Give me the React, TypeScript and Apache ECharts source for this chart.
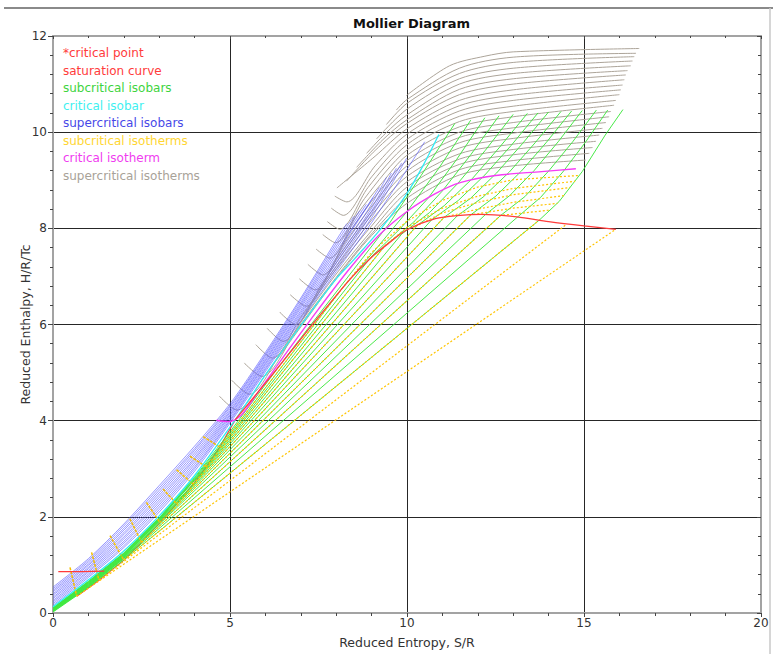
import React, { useEffect, useRef } from "react";
import * as echarts from "echarts";

type Pt = [number, number];

// ---- Saturation dome ----
const satLowSegment: Pt[] = [[0.15, 0.86], [0.8, 0.86], [1.45, 0.87]];
const satLiquid: Pt[] = [[0.67, 0.35], [1.3, 0.68], [2.0, 1.1], [2.5, 1.47], [3.02, 1.88], [3.49, 2.27], [3.96, 2.68], [4.33, 3.04], [4.71, 3.45], [5.15, 4.02]];
const satVapor: Pt[] = [[5.15, 4.02], [6.0, 4.78], [6.7, 5.42], [7.44, 6.1], [8.4, 6.95], [9.0, 7.4], [9.5, 7.7], [10.0, 7.97], [10.8, 8.2], [11.5, 8.27], [12.1, 8.29], [13.1, 8.24], [14.0, 8.14], [15.0, 8.05], [15.9, 7.98]];

// ---- Critical isobar and isotherm ----
const criticalIsobar: Pt[] = [[0, 0.13], [1, 0.69], [2, 1.29], [3, 2.02], [4, 2.86], [5.15, 4.02], [6.0, 4.95], [7.0, 5.98], [8.0, 6.95], [8.5, 7.35], [9.27, 8.0], [9.96, 8.68], [10.45, 9.3], [10.9, 9.95]];
const criticalIsotherm: Pt[] = [[4.62, 4.01], [4.95, 3.98], [5.3, 4.1], [5.8, 4.6], [6.6, 5.42], [7.5, 6.32], [8.4, 7.18], [9.2, 7.85], [10.0, 8.35], [10.8, 8.72], [11.5, 8.95], [12.5, 9.1], [13.8, 9.18], [14.77, 9.24]];

// ---- Supercritical isobars (highest pressure first) ----
const superIsobars: Pt[][] = [
  [[0, 0.54], [1, 1.13], [2, 1.85], [3, 2.65], [4, 3.47], [5, 4.35], [6, 5.42], [7, 6.55], [8, 7.75], [8.3, 8.1]],
  [[0, 0.505], [1, 1.095], [2, 1.81], [3, 2.6], [4, 3.42], [5, 4.31], [6, 5.38], [7, 6.51], [8, 7.69], [8.5, 8.25]],
  [[0, 0.47], [1, 1.06], [2, 1.76], [3, 2.55], [4, 3.38], [5, 4.28], [6, 5.35], [7, 6.46], [8, 7.63], [8.67, 8.37]],
  [[0, 0.44], [1, 1.02], [2, 1.72], [3, 2.5], [4, 3.33], [5, 4.24], [6, 5.31], [7, 6.42], [8, 7.57], [8.85, 8.5]],
  [[0, 0.4], [1, 0.99], [2, 1.67], [3, 2.45], [4, 3.28], [5, 4.2], [6, 5.27], [7, 6.38], [8, 7.51], [9.04, 8.64]],
  [[0, 0.37], [1, 0.95], [2, 1.63], [3, 2.4], [4, 3.23], [5, 4.17], [6, 5.24], [7, 6.34], [8, 7.45], [9.22, 8.85]],
  [[0, 0.33], [1, 0.92], [2, 1.58], [3, 2.35], [4, 3.19], [5, 4.13], [6, 5.2], [7, 6.29], [8, 7.39], [9, 8.5], [9.42, 9.06]],
  [[0, 0.3], [1, 0.88], [2, 1.54], [3, 2.3], [4, 3.14], [5, 4.1], [6, 5.17], [7, 6.25], [8, 7.33], [9, 8.42], [9.56, 9.15]],
  [[0, 0.26], [1, 0.85], [2, 1.49], [3, 2.25], [4, 3.09], [5, 4.06], [6, 5.13], [7, 6.21], [8, 7.28], [9, 8.36], [9.7, 9.25]],
  [[0, 0.23], [1, 0.81], [2, 1.45], [3, 2.2], [4, 3.04], [5, 4.02], [6, 5.09], [7, 6.17], [8, 7.22], [9, 8.3], [9.85, 9.36]],
  [[0, 0.195], [1, 0.775], [2, 1.4], [3, 2.15], [4, 3.0], [5, 3.99], [6, 5.06], [7, 6.12], [8, 7.16], [9, 8.22], [9.99, 9.46]],
  [[0, 0.16], [1, 0.74], [2, 1.36], [3, 2.1], [4, 2.95], [5, 3.95], [6, 5.02], [7, 6.08], [8, 7.1], [9, 8.12], [9.8, 9.0], [10.5, 9.8]],
];

// ---- Subcritical isobars: liquid, two-phase, superheated ----
const subIsobars: Pt[][] = [
  [[0, 0.11], [1, 0.66], [2, 1.25], [3, 1.98], [4, 2.82], [4.95, 3.72], [6.6, 5.34], [7.5, 6.2], [8.5, 7.15], [9.5, 8.1], [10.4, 9.1], [11.35, 10.18]],
  [[0, 0.1], [1, 0.65], [2, 1.24], [3, 1.97], [4, 2.8], [4.71, 3.45], [8.2, 6.78], [9.1, 7.55], [10.0, 8.35], [10.9, 9.25], [11.8, 10.25]],
  [[0, 0.1], [1, 0.64], [2, 1.23], [3, 1.96], [4, 2.78], [4.52, 3.24], [8.98, 7.4], [9.79, 7.98], [10.59, 8.62], [11.4, 9.43], [12.2, 10.3]],
  [[0, 0.09], [1, 0.63], [2, 1.22], [3, 1.95], [4, 2.77], [4.33, 3.04], [9.38, 7.64], [10.19, 8.13], [10.99, 8.77], [11.8, 9.53], [12.6, 10.34]],
  [[0, 0.08], [1, 0.62], [2, 1.21], [3, 1.94], [4, 2.76], [4.15, 2.86], [9.85, 7.88], [10.64, 8.33], [11.43, 8.93], [12.21, 9.62], [13.0, 10.37]],
  [[0, 0.08], [1, 0.61], [2, 1.2], [3, 1.93], [3.96, 2.68], [10.27, 8.05], [11.05, 8.47], [11.84, 9.03], [12.62, 9.69], [13.4, 10.39]],
  [[0, 0.07], [1, 0.6], [2, 1.19], [3, 1.92], [3.72, 2.47], [10.7, 8.18], [11.45, 8.58], [12.2, 9.11], [12.95, 9.73], [13.7, 10.4]],
  [[0, 0.07], [1, 0.59], [2, 1.18], [3, 1.91], [3.49, 2.27], [11.05, 8.23], [11.79, 8.62], [12.53, 9.15], [13.26, 9.76], [14.0, 10.42]],
  [[0, 0.06], [1, 0.58], [2, 1.17], [3, 1.9], [3.25, 2.07], [11.42, 8.26], [12.15, 8.65], [12.89, 9.17], [13.62, 9.78], [14.35, 10.43]],
  [[0, 0.05], [1, 0.57], [2, 1.16], [3.02, 1.88], [11.8, 8.28], [12.51, 8.67], [13.23, 9.19], [13.94, 9.79], [14.65, 10.44]],
  [[0, 0.05], [1, 0.56], [2, 1.15], [2.75, 1.67], [12.22, 8.29], [12.9, 8.68], [13.59, 9.2], [14.27, 9.8], [14.95, 10.45]],
  [[0, 0.04], [1, 0.55], [2, 1.14], [2.5, 1.47], [12.65, 8.27], [13.33, 8.66], [14.0, 9.19], [14.68, 9.8], [15.35, 10.46]],
  [[0, 0.03], [1, 0.54], [2, 1.13], [2.25, 1.28], [13.13, 8.24], [13.77, 8.64], [14.4, 9.17], [15.04, 9.79], [15.67, 10.46]],
  [[0, 0.02], [1, 0.53], [2.0, 1.1], [13.75, 8.18], [14.3, 8.56], [14.95, 9.18], [15.6, 9.94], [16.1, 10.47]],
];

// ---- Subcritical isotherms: compressed-liquid tick, two-phase line, superheated part ----
const subIsotherms: Pt[][] = [
  [[0.48, 0.95], [0.67, 0.35], [15.9, 7.98]],
  [[1.09, 1.26], [1.3, 0.68], [14.5, 8.08]],
  [[1.61, 1.61], [2.0, 1.1], [13.75, 8.18]],
  [[2.17, 1.96], [2.5, 1.47], [12.65, 8.27], [13.3, 8.32], [14.05, 8.38]],
  [[2.64, 2.3], [3.02, 1.88], [11.8, 8.28], [13.0, 8.42], [14.25, 8.52]],
  [[3.11, 2.58], [3.49, 2.27], [11.05, 8.23], [12.0, 8.4], [13.0, 8.54], [14.43, 8.68]],
  [[3.49, 2.98], [3.96, 2.68], [10.27, 8.05], [11.0, 8.32], [12.0, 8.54], [13.0, 8.7], [14.6, 8.85]],
  [[3.87, 3.26], [4.33, 3.04], [9.38, 7.64], [10.0, 8.02], [11.0, 8.42], [12.0, 8.67], [13.0, 8.83], [14.75, 8.98]],
  [[4.24, 3.67], [4.71, 3.45], [8.2, 6.78], [9.0, 7.5], [10.0, 8.15], [11.0, 8.58], [12.0, 8.86], [13.0, 9.01], [14.87, 9.1]],
];

// ---- Supercritical isotherms (lowest temperature first) ----
const superIsotherms: Pt[][] = [
  [[4.7, 4.51], [5.2, 4.22], [6.0, 4.95], [7.0, 5.95], [8.0, 6.95], [9.0, 7.85], [10, 8.52], [11.48, 9.11], [13, 9.3], [15.05, 9.42]],
  [[5.05, 4.84], [5.55, 4.55], [6.5, 5.5], [7.5, 6.5], [8.5, 7.45], [9.2, 8.05], [10, 8.63], [11.48, 9.22], [13, 9.41], [15.15, 9.56]],
  [[5.4, 5.2], [5.9, 4.92], [7.0, 6.05], [8.0, 7.05], [9.0, 7.95], [10, 8.75], [11.48, 9.33], [13, 9.53], [15.24, 9.68]],
  [[5.73, 5.58], [6.2, 5.3], [7.0, 6.15], [8.0, 7.15], [9.0, 8.05], [10, 8.86], [11.48, 9.44], [13, 9.64], [15.34, 9.81]],
  [[6.05, 5.92], [6.5, 5.65], [7.5, 6.7], [8.5, 7.7], [9.2, 8.35], [10, 8.97], [11.48, 9.55], [13, 9.75], [15.43, 9.94]],
  [[6.4, 6.26], [6.85, 6.0], [7.6, 6.85], [8.5, 7.8], [9.2, 8.45], [10, 9.08], [11.48, 9.67], [13, 9.87], [15.52, 10.08]],
  [[6.7, 6.62], [7.15, 6.38], [8.0, 7.35], [9.0, 8.35], [10, 9.19], [11.48, 9.78], [13, 9.98], [15.62, 10.2]],
  [[6.96, 6.95], [7.4, 6.72], [8.2, 7.65], [9.1, 8.55], [10, 9.3], [11.48, 9.89], [13, 10.09], [15.71, 10.32]],
  [[7.2, 7.25], [7.62, 7.03], [8.4, 7.95], [9.2, 8.75], [10, 9.41], [11.48, 10.0], [13, 10.2], [15.76, 10.43]],
  [[7.43, 7.57], [7.82, 7.38], [8.6, 8.3], [9.3, 8.95], [10, 9.52], [11.48, 10.11], [13, 10.32], [15.85, 10.56]],
  [[7.62, 7.87], [7.98, 7.7], [8.8, 8.62], [10, 9.63], [11.48, 10.22], [13, 10.43], [15.9, 10.66]],
  [[7.75, 8.14], [8.1, 7.98], [8.9, 8.85], [10, 9.74], [11.48, 10.33], [13, 10.54], [16.0, 10.78]],
  [[7.86, 8.42], [8.2, 8.27], [9.0, 9.07], [10, 9.85], [11.48, 10.44], [13, 10.66], [16.04, 10.88]],
  [[7.96, 8.67], [8.3, 8.55], [9.1, 9.3], [10, 9.96], [11.48, 10.55], [13, 10.77], [16.09, 10.98]],
  [[8.02, 8.84], [9.1, 9.5], [10, 10.07], [11.48, 10.66], [13, 10.88], [16.14, 11.09]],
  [[8.29, 8.98], [9.1, 9.62], [10, 10.18], [11.48, 10.78], [13, 11.0], [16.18, 11.19]],
  [[8.58, 9.27], [9.3, 9.83], [10, 10.26], [11.48, 10.89], [13, 11.11], [16.23, 11.28]],
  [[8.86, 9.56], [9.4, 9.98], [10, 10.36], [11.48, 11.0], [13, 11.22], [16.32, 11.38]],
  [[9.14, 9.86], [10, 10.48], [11.48, 11.11], [13, 11.33], [16.37, 11.48]],
  [[9.42, 10.16], [10, 10.6], [11.48, 11.22], [13, 11.45], [16.42, 11.57]],
  [[9.7, 10.46], [10, 10.68], [11.48, 11.33], [13, 11.56], [16.47, 11.64]],
  [[9.98, 10.76], [11.2, 11.38], [12.2, 11.58], [13, 11.67], [16.56, 11.74]],
];

// ---- Legend text ----
const legendItems: { label: string; color: string }[] = [
  { label: "*critical point", color: "#ff3b3b" },
  { label: "saturation curve", color: "#ff3b3b" },
  { label: "subcritical isobars", color: "#3ed43e" },
  { label: "critical isobar", color: "#3ff0f0" },
  { label: "supercritical isobars", color: "#4848e8" },
  { label: "subcritical isotherms", color: "#ffd633" },
  { label: "critical isotherm", color: "#f03cf0" },
  { label: "supercritical isotherms", color: "#a8a298" },
];

const xTicks = { min: 0, max: 20, interval: 5 };
const yTicks = { min: 0, max: 12, interval: 2 };

const FONT = '"DejaVu Sans", sans-serif';

function curve(name: string, data: Pt[], color: string, width: number, type: any = "solid", smooth: number | boolean = false, opacity = 1) {
  return {
    type: "line",
    name,
    data,
    showSymbol: false,
    symbol: "none",
    silent: true,
    smooth,
    lineStyle: { color, width, type, opacity },
    emphasis: { disabled: true },
  };
}

export default function App() {
  const ref = useRef<HTMLDivElement>(null);

  useEffect(() => {
    if (!ref.current) return;
    const chart = echarts.init(ref.current, undefined, { renderer: "svg" });

    const series: any[] = [];
    series.push(curve("saturation curve", satLiquid, "#ff3b3b", 1.2));
    superIsotherms.forEach((c) => series.push(curve("supercritical isotherms", c, "#aca499", 1, "solid", 0.3)));
    subIsobars.forEach((c) => series.push(curve("subcritical isobars", c, "#3fe83f", 1, "solid", false, 0.95)));
    superIsobars.forEach((c) => series.push(curve("supercritical isobars", c, "#5a5aff", 0.7, "solid", 0.3, 0.9)));
    subIsotherms.forEach((c) => {
      // compressed-liquid end drawn a little heavier so it reads across the isobar band
      series.push(curve("subcritical isotherms", c.slice(0, 2), "#f5c000", 1.5, [3, 1]));
      series.push(curve("subcritical isotherms", c.slice(1), "#ffc400", 1.2, [2, 2]));
    });
    series.push(curve("critical isobar", criticalIsobar, "#30ecf4", 1.3, "solid", 0.3));
    series.push(curve("critical isotherm", criticalIsotherm, "#f53cf5", 1.4, "solid", 0.3));
    series.push(curve("saturation curve", satVapor, "#ff3b3b", 1.3, "solid", 0.3));
    series.push(curve("saturation curve", satLowSegment, "#ff3b3b", 1.3));

    const axisLineStyle = { color: "#a3a3a3", width: 2 };
    const tickStyle = { color: "#444", width: 1 };

    const graphics: any[] = legendItems.map((it, i) => ({
      type: "text",
      x: 63,
      y: 53 + i * 17.5,
      silent: true,
      style: { text: it.label, fill: it.color, font: `12px ${FONT}`, textVerticalAlign: "middle" },
    }));
    // panel frame along the top and right edges
    graphics.push({ type: "line", silent: true, shape: { x1: 4, y1: 8, x2: 773, y2: 8 }, style: { stroke: "#8a8a8a", lineWidth: 2 } });
    graphics.push({ type: "line", silent: true, shape: { x1: 770, y1: 8, x2: 770, y2: 654 }, style: { stroke: "#c8c8c8", lineWidth: 1.5 } });

    chart.setOption({
      animation: false,
      backgroundColor: "#ffffff",
      title: {
        text: "Mollier Diagram",
        left: 348,
        top: 12,
        textStyle: { fontFamily: FONT, fontWeight: "bold", fontSize: 13, color: "#111" },
      },
      grid: { left: 53, right: 12, top: 36, bottom: 36, containLabel: false },
      xAxis: [
        {
          type: "value", ...xTicks, position: "bottom",
          name: "Reduced Entropy, S/R", nameLocation: "middle", nameGap: 23, nameMoveOverlap: false,
          nameTextStyle: { fontFamily: FONT, fontSize: 12.5, color: "#333" },
          axisLine: { onZero: false, lineStyle: axisLineStyle },
          axisTick: { show: true, length: 4, lineStyle: tickStyle },
          minorTick: { show: true, splitNumber: 5, length: 3, lineStyle: tickStyle },
          axisLabel: { margin: 4, fontFamily: FONT, fontSize: 12, color: "#333" },
          splitLine: { show: true, lineStyle: { color: "#262626", width: 1 } },
        },
        {
          type: "value", ...xTicks, position: "top",
          axisLine: { onZero: false, lineStyle: axisLineStyle },
          axisTick: { show: true, inside: true, length: 3, lineStyle: tickStyle },
          minorTick: { show: true, splitNumber: 5, length: 2, lineStyle: tickStyle },
          axisLabel: { show: false },
          splitLine: { show: false },
        },
      ],
      yAxis: [
        {
          type: "value", ...yTicks, position: "left",
          name: "Reduced Enthalpy, H/R/Tc", nameLocation: "middle", nameGap: 21, nameMoveOverlap: false,
          nameTextStyle: { fontFamily: FONT, fontSize: 12.5, color: "#333" },
          axisLine: { onZero: false, lineStyle: axisLineStyle },
          axisTick: { show: true, length: 5, lineStyle: tickStyle },
          minorTick: { show: true, splitNumber: 5, length: 3, lineStyle: tickStyle },
          axisLabel: { margin: 6, fontFamily: FONT, fontSize: 12, color: "#333" },
          splitLine: { show: true, lineStyle: { color: "#262626", width: 1 } },
        },
        {
          type: "value", ...yTicks, position: "right",
          axisLine: { onZero: false, lineStyle: axisLineStyle },
          axisTick: { show: true, inside: true, length: 4, lineStyle: tickStyle },
          minorTick: { show: true, splitNumber: 5, length: 3, lineStyle: tickStyle },
          axisLabel: { show: false },
          splitLine: { show: false },
        },
      ],
      graphic: graphics,
      series,
    });

    return () => chart.dispose();
  }, []);

  return (
    <div
      ref={ref}
      style={{ position: "absolute", left: 0, top: 0, width: 773, height: 654, background: "#fff" }}
    />
  );
}
